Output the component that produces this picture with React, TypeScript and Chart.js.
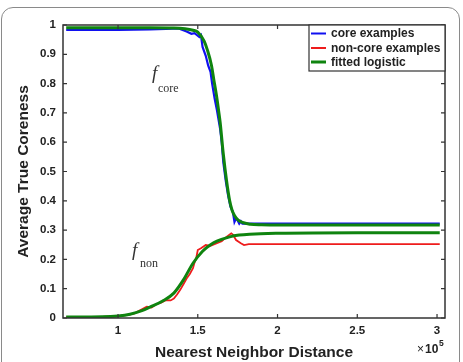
import React, { useEffect, useRef } from "react";
import { Chart, registerables } from "chart.js";

Chart.register(...registerables);

// ---- data (x in units of 1e5) ----
const coreX = [0.675, 0.8, 0.9, 1.0, 1.1, 1.2, 1.3, 1.38, 1.43, 1.46, 1.48, 1.51, 1.52, 1.53, 1.55, 1.565, 1.58, 1.59, 1.606, 1.62, 1.64, 1.65, 1.66, 1.675, 1.69, 1.705, 1.72, 1.73, 1.74, 1.75, 1.76, 1.77, 1.78, 1.85, 2.0, 2.5, 3.017];
const coreY = [0.983, 0.983, 0.983, 0.983, 0.984, 0.985, 0.987, 0.988, 0.978, 0.97, 0.972, 0.959, 0.965, 0.925, 0.895, 0.862, 0.84, 0.8, 0.748, 0.71, 0.646, 0.6, 0.532, 0.47, 0.419, 0.38, 0.362, 0.328, 0.34, 0.333, 0.322, 0.33, 0.322, 0.322, 0.322, 0.322, 0.322];

const nonX = [0.675, 0.8, 0.9, 1.0, 1.05, 1.1, 1.15, 1.18, 1.21, 1.24, 1.27, 1.3, 1.33, 1.35, 1.37, 1.39, 1.41, 1.43, 1.45, 1.47, 1.48, 1.49, 1.5, 1.52, 1.55, 1.58, 1.62, 1.65, 1.68, 1.71, 1.72, 1.74, 1.77, 1.79, 1.82, 2.0, 2.5, 3.017];
const nonY = [0.003, 0.003, 0.004, 0.006, 0.01, 0.015, 0.03, 0.039, 0.036, 0.047, 0.052, 0.061, 0.06, 0.066, 0.08, 0.096, 0.115, 0.135, 0.15, 0.17, 0.19, 0.204, 0.232, 0.238, 0.249, 0.246, 0.255, 0.262, 0.277, 0.289, 0.285, 0.266, 0.255, 0.249, 0.252, 0.252, 0.252, 0.252];

const fitCoreX = [0.675, 1.0, 1.2, 1.35, 1.42, 1.47, 1.5, 1.54, 1.56, 1.586, 1.6, 1.617, 1.63, 1.64, 1.66, 1.68, 1.7, 1.715, 1.73, 1.75, 1.78, 1.83, 1.9, 2.0, 3.017];
const fitCoreY = [0.991, 0.991, 0.991, 0.99, 0.987, 0.982, 0.976, 0.945, 0.915, 0.862, 0.815, 0.76, 0.71, 0.669, 0.56, 0.47, 0.4, 0.368, 0.35, 0.336, 0.326, 0.32, 0.318, 0.317, 0.317];

const fitNonX = [0.675, 0.9, 1.0, 1.075, 1.15, 1.2, 1.28, 1.35, 1.41, 1.47, 1.53, 1.58, 1.62, 1.7, 1.76, 1.825, 2.0, 2.5, 3.017];
const fitNonY = [0.003, 0.004, 0.007, 0.013, 0.025, 0.037, 0.058, 0.085, 0.13, 0.187, 0.228, 0.25, 0.262, 0.277, 0.283, 0.286, 0.289, 0.291, 0.291];

const xTicks = [1, 1.5, 2, 2.5, 3];
const xTickLabels = ["1", "1.5", "2", "2.5", "3"];
const yTicks = [0, 0.1, 0.2, 0.3, 0.4, 0.5, 0.6, 0.7, 0.8, 0.9, 1];
const yTickLabels = ["0", "0.1", "0.2", "0.3", "0.4", "0.5", "0.6", "0.7", "0.8", "0.9", "1"];

const legendLabels = ["core examples", "non-core examples", "fitted logistic"];
const BLUE = "#1010f0";
const RED = "#ee1c1c";
const GREEN = "#0f840f";
const AXIS = "#333333";
const TEXT = "#222222";
const SANS = "'Liberation Sans', Arial, sans-serif";
const SERIF = "'Liberation Serif', 'Times New Roman', serif";

function pts(xs: number[], ys: number[]) {
  return xs.map((x, i) => ({ x, y: ys[i] }));
}

const boxPlugin = {
  id: "boxPlugin",
  afterDatasetsDraw(chart: any) {
    const { ctx, chartArea: ca, scales } = chart;
    const xs = scales.x;
    const ys = scales.y;
    ctx.save();
    ctx.strokeStyle = AXIS;
    ctx.lineWidth = 1.5;
    ctx.strokeRect(ca.left, ca.top, ca.right - ca.left, ca.bottom - ca.top);
    ctx.lineWidth = 1.2;
    const tl = 4;
    ctx.beginPath();
    xTicks.forEach((v) => {
      const px = xs.getPixelForValue(v);
      ctx.moveTo(px, ca.bottom);
      ctx.lineTo(px, ca.bottom - tl);
      ctx.moveTo(px, ca.top);
      ctx.lineTo(px, ca.top + tl);
    });
    yTicks.forEach((v) => {
      const py = ys.getPixelForValue(v);
      ctx.moveTo(ca.left, py);
      ctx.lineTo(ca.left + tl, py);
      ctx.moveTo(ca.right, py);
      ctx.lineTo(ca.right - tl, py);
    });
    ctx.stroke();

    // annotations
    ctx.fillStyle = "#333";
    ctx.textBaseline = "alphabetic";
    ctx.textAlign = "left";
    ctx.font = `italic 19px ${SERIF}`;
    ctx.fillText("f", 152, 79);
    ctx.fillText("f", 132, 256);
    ctx.font = `12px ${SERIF}`;
    ctx.fillText("core", 158, 92);
    ctx.fillText("non", 140, 266.5);

    // x10^5
    ctx.fillStyle = TEXT;
    ctx.font = `12px ${SANS}`;
    ctx.fillText("\u00d7", 417, 353);
    ctx.font = `bold 12px ${SANS}`;
    ctx.fillText("10", 425, 353);
    ctx.font = `bold 8.5px ${SANS}`;
    ctx.fillText("5", 439, 346);
    ctx.restore();
  },
  afterDraw(chart: any) {
    const { ctx, chartArea: ca } = chart;
    const x0 = 309;
    const x1 = ca.right;
    const y0 = ca.top;
    const y1 = 71;
    ctx.save();
    ctx.fillStyle = "#ffffff";
    ctx.fillRect(x0, y0, x1 - x0, y1 - y0);
    ctx.strokeStyle = AXIS;
    ctx.lineWidth = 1.2;
    ctx.strokeRect(x0, y0, x1 - x0, y1 - y0);
    const colors = [BLUE, RED, GREEN];
    const widths = [2, 2, 3];
    const rows = [33.5, 48, 62];
    ctx.font = `bold 12px ${SANS}`;
    ctx.textBaseline = "middle";
    ctx.textAlign = "left";
    legendLabels.forEach((lbl, i) => {
      ctx.strokeStyle = colors[i];
      ctx.lineWidth = widths[i];
      ctx.beginPath();
      ctx.moveTo(311, rows[i]);
      ctx.lineTo(326, rows[i]);
      ctx.stroke();
      ctx.fillStyle = TEXT;
      ctx.fillText(lbl, 331, rows[i] + 0.5);
    });
    ctx.restore();
  },
};

export default function App() {
  const ref = useRef<HTMLCanvasElement | null>(null);
  useEffect(() => {
    if (!ref.current) return;
    Chart.defaults.font.family = SANS;
    const chart = new Chart(ref.current, {
      type: "line",
      data: {
        datasets: [
          { label: "fitted core", data: pts(fitCoreX, fitCoreY), borderColor: GREEN, borderWidth: 3, pointRadius: 0, tension: 0.3, cubicInterpolationMode: "monotone", order: 0 },
          { label: "fitted non", data: pts(fitNonX, fitNonY), borderColor: GREEN, borderWidth: 3, pointRadius: 0, tension: 0.3, cubicInterpolationMode: "monotone", order: 0 },
          { label: "core examples", data: pts(coreX, coreY), borderColor: BLUE, borderWidth: 2.2, pointRadius: 0, tension: 0, order: 1 },
          { label: "non-core examples", data: pts(nonX, nonY), borderColor: RED, borderWidth: 1.8, pointRadius: 0, tension: 0, order: 1 },
        ],
      } as any,
      options: {
        animation: false,
        responsive: false,
        devicePixelRatio: 1,
        parsing: false as any,
        layout: { padding: { top: 25, right: 18, left: 0, bottom: 0 } },
        plugins: { legend: { display: false }, tooltip: { enabled: false } },
        scales: {
          x: {
            type: "linear",
            min: 0.655,
            max: 3.05,
            grid: { display: false, drawTicks: false },
            border: { display: false },
            afterBuildTicks: (s: any) => {
              s.ticks = xTicks.map((v) => ({ value: v }));
            },
            afterFit: (s: any) => {
              s.height = 44;
            },
            ticks: {
              padding: 6,
              color: TEXT,
              font: { size: 11.5, weight: "bold" },
              maxRotation: 0,
              autoSkip: false,
              callback: (_v: any, i: number) => xTickLabels[i],
            },
            title: {
              display: true,
              text: "Nearest Neighbor Distance",
              color: TEXT,
              font: { size: 15.5, weight: "bold" },
              padding: { top: 0, bottom: 0 },
            },
          },
          y: {
            type: "linear",
            min: 0,
            max: 1,
            grid: { display: false, drawTicks: false },
            border: { display: false },
            afterBuildTicks: (s: any) => {
              s.ticks = yTicks.map((v) => ({ value: v }));
            },
            afterFit: (s: any) => {
              s.width = 63;
            },
            ticks: {
              padding: 7,
              color: TEXT,
              font: { size: 11.5, weight: "bold" },
              autoSkip: false,
              callback: (_v: any, i: number) => yTickLabels[i],
            },
            title: {
              display: true,
              text: "Average True Coreness",
              color: TEXT,
              font: { size: 15.5, weight: "bold" },
              padding: { top: 14, bottom: 0 },
            },
          },
        },
      } as any,
      plugins: [boxPlugin],
    });
    return () => chart.destroy();
  }, []);

  return (
    <div style={{ position: "fixed", left: 0, top: 0, width: 463, height: 362, overflow: "hidden", background: "#fff" }}>
      <canvas ref={ref} width={463} height={362} style={{ display: "block", width: 463, height: 362 }} />
      <div
        style={{
          position: "absolute",
          left: 1,
          top: 7,
          width: 459,
          height: 420,
          border: "1.5px solid #8a8a8a",
          borderRadius: 12,
          boxSizing: "border-box",
          pointerEvents: "none",
        }}
      />
    </div>
  );
}
